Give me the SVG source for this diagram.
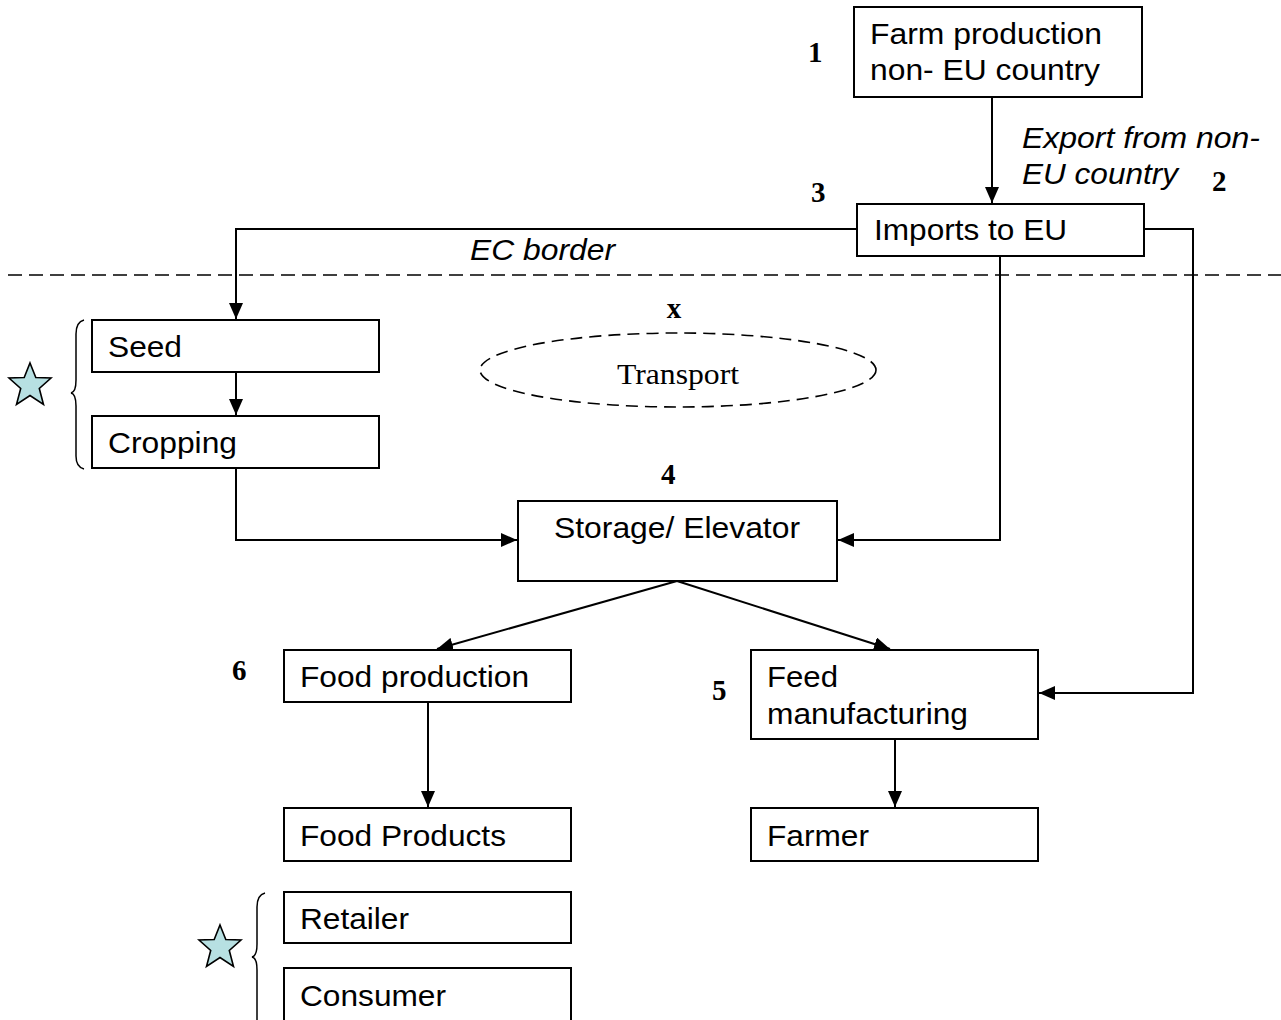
<svg xmlns="http://www.w3.org/2000/svg" width="1281" height="1020" viewBox="0 0 1281 1020">
<style>
.box{fill:#fff;stroke:#000;stroke-width:2}
.t{font-family:"Liberation Sans",Arial,sans-serif;font-size:30px;fill:#000}
.it{font-family:"Liberation Sans",Arial,sans-serif;font-size:30px;font-style:italic;fill:#000}
.num{font-family:"Liberation Serif","Times New Roman",serif;font-size:29px;font-weight:bold;fill:#000}
.ser{font-family:"Liberation Serif","Times New Roman",serif;font-size:30px;fill:#000}
.c{fill:none;stroke:#000;stroke-width:2}
.star{fill:#b7e0e2;stroke:#000;stroke-width:1.6;stroke-linejoin:miter}
.brace{fill:none;stroke:#000;stroke-width:1.5}
</style>
<defs>
<marker id="ah" markerUnits="userSpaceOnUse" markerWidth="16" markerHeight="14" viewBox="0 0 16 14" refX="16" refY="7" orient="auto">
<path d="M0,0 L16,7 L0,14 Z" fill="#000"/>
</marker>
</defs>
<rect width="1281" height="1020" fill="#fff"/>

<line x1="8" y1="275" x2="1281" y2="275" stroke="#000" stroke-width="1.6" stroke-dasharray="14,7"/>

<g id="connectors">
<path class="c" d="M992,97 V203" marker-end="url(#ah)"/>
<path class="c" d="M857,229 H236 V319" marker-end="url(#ah)"/>
<path class="c" d="M236,372 V415" marker-end="url(#ah)"/>
<path class="c" d="M236,468 V540 H517" marker-end="url(#ah)"/>
<path class="c" d="M1000,256 V540 H838" marker-end="url(#ah)"/>
<path class="c" d="M1144,229 H1193 V693 H1039" marker-end="url(#ah)"/>
<path class="c" d="M677,581 L437,649" marker-end="url(#ah)"/>
<path class="c" d="M677,581 L890,649" marker-end="url(#ah)"/>
<path class="c" d="M428,702 V807" marker-end="url(#ah)"/>
<path class="c" d="M895,739 V807" marker-end="url(#ah)"/>
</g>

<g id="farm">
<rect class="box" x="854" y="7" width="288" height="90"/>
<text class="t" x="870" y="44" textLength="232" lengthAdjust="spacingAndGlyphs">Farm production</text>
<text class="t" x="870" y="80" textLength="230" lengthAdjust="spacingAndGlyphs">non- EU country</text>
</g>
<text class="num" x="808" y="62">1</text>
<text class="it" x="1022" y="148" textLength="238" lengthAdjust="spacingAndGlyphs">Export from non-</text>
<text class="it" x="1022" y="184" textLength="156" lengthAdjust="spacingAndGlyphs">EU country</text>
<text class="num" x="1212" y="191">2</text>
<text class="num" x="811" y="202">3</text>

<g id="imports">
<rect class="box" x="857" y="204" width="287" height="52"/>
<text class="t" x="874" y="240" textLength="193" lengthAdjust="spacingAndGlyphs">Imports to EU</text>
</g>
<text class="it" x="470" y="260" textLength="145" lengthAdjust="spacingAndGlyphs">EC border</text>

<g id="seed">
<rect class="box" x="92" y="320" width="287" height="52"/>
<text class="t" x="108" y="357" textLength="74" lengthAdjust="spacingAndGlyphs">Seed</text>
</g>
<g id="cropping">
<rect class="box" x="92" y="416" width="287" height="52"/>
<text class="t" x="108" y="453" textLength="129" lengthAdjust="spacingAndGlyphs">Cropping</text>
</g>
<g id="star1">
<polygon class="star" points="30,363 35.8,377.5 51,378 39.3,388.4 43.5,404.5 30,395.5 16.5,404.5 20.7,388.4 9,378 24.2,377.5"/>
</g>
<path class="brace" d="M84,320 Q76,322 76,334 V380 Q76,392 71,393 Q76,394 76,406 V456 Q76,467 84,469"/>

<g id="transport">
<ellipse cx="678" cy="370" rx="198" ry="37" fill="none" stroke="#000" stroke-width="1.6" stroke-dasharray="12,7"/>
<text class="ser" x="678" y="384" text-anchor="middle" textLength="122" lengthAdjust="spacingAndGlyphs">Transport</text>
</g>
<text class="num" x="674" y="318" text-anchor="middle">x</text>

<text class="num" x="661" y="484">4</text>
<g id="storage">
<rect class="box" x="518" y="501" width="319" height="80"/>
<text class="t" x="677" y="538" text-anchor="middle" textLength="246" lengthAdjust="spacingAndGlyphs">Storage/ Elevator</text>
</g>

<text class="num" x="232" y="680">6</text>
<g id="foodproduction">
<rect class="box" x="284" y="650" width="287" height="52"/>
<text class="t" x="300" y="687" textLength="229" lengthAdjust="spacingAndGlyphs">Food production</text>
</g>

<text class="num" x="712" y="700">5</text>
<g id="feed">
<rect class="box" x="751" y="650" width="287" height="89"/>
<text class="t" x="767" y="687" textLength="71" lengthAdjust="spacingAndGlyphs">Feed</text>
<text class="t" x="767" y="724" textLength="201" lengthAdjust="spacingAndGlyphs">manufacturing</text>
</g>

<g id="foodproducts">
<rect class="box" x="284" y="808" width="287" height="53"/>
<text class="t" x="300" y="846" textLength="206" lengthAdjust="spacingAndGlyphs">Food Products</text>
</g>
<g id="farmer">
<rect class="box" x="751" y="808" width="287" height="53"/>
<text class="t" x="767" y="846" textLength="102" lengthAdjust="spacingAndGlyphs">Farmer</text>
</g>

<g id="retailer">
<rect class="box" x="284" y="892" width="287" height="51"/>
<text class="t" x="300" y="929" textLength="109" lengthAdjust="spacingAndGlyphs">Retailer</text>
</g>
<g id="consumer">
<rect class="box" x="284" y="968" width="287" height="60"/>
<text class="t" x="300" y="1006" textLength="146" lengthAdjust="spacingAndGlyphs">Consumer</text>
</g>
<g id="star2">
<polygon class="star" points="220,925 225.8,939.5 241,940 229.3,950.4 233.5,966.5 220,957.5 206.5,966.5 210.7,950.4 199,940 214.2,939.5"/>
</g>
<path class="brace" d="M265,893 Q257,895 257,907 V944 Q257,956 252,957 Q257,958 257,970 V1020"/>
</svg>
